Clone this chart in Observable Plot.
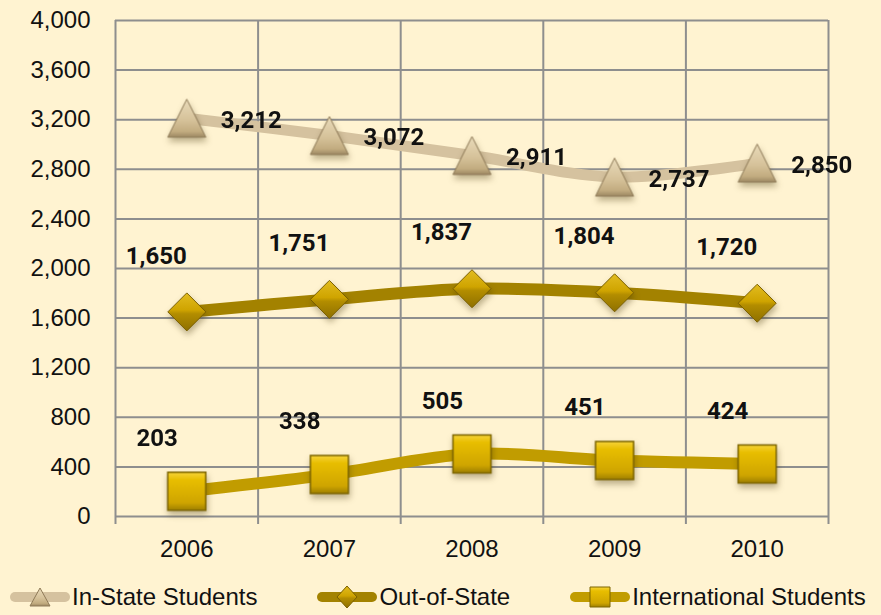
<!DOCTYPE html>
<html>
<head>
<meta charset="utf-8">
<script src="https://cdn.jsdelivr.net/npm/d3@7"></script>
<script src="https://cdn.jsdelivr.net/npm/@observablehq/plot@0.6"></script>
<style>
  html, body { margin: 0; padding: 0; background: #FFF3D1; }
  #chart { width: 881px; height: 615px; background: #FFF3D1; overflow: hidden; }
  #chart svg g[aria-label="dot"] { filter: drop-shadow(1px 4px 3px rgba(60,45,0,0.35)); }
  .legend { display: flex; gap: 60px; padding-left: 10px; height: 37px; align-items: center;
            font: 24px "Liberation Sans", Arial, sans-serif; color: #111; }
  .item { display: flex; align-items: center; gap: 2px; }
</style>
</head>
<body>
<div id="chart"></div>
<script>
// ---- data ----
const years = [2006, 2007, 2008, 2009, 2010];
const inState = [3212, 3072, 2911, 2737, 2850];
const outOfState = [1650, 1751, 1837, 1804, 1720];
const international = [203, 338, 505, 451, 424];
const seriesNames = ["In-State Students", "Out-of-State", "International Students"];
const yTicks = [0, 400, 800, 1200, 1600, 2000, 2400, 2800, 3200, 3600, 4000];

// ---- build tables ----
const rows = (vals) => years.map((year, i) => ({year, value: vals[i]}));
const inRows = rows(inState), outRows = rows(outOfState), intRows = rows(international);
const bounds = d3.range(years.length + 1).map(i => years[0] - 0.5 + i);

// ---- custom symbols ----
const triSym = {draw(ctx, size) { const r = Math.sqrt(size / Math.PI);
  ctx.moveTo(0, -r); ctx.lineTo(r, r); ctx.lineTo(-r, r); ctx.closePath(); }};
const diaSym = {draw(ctx, size) { const r = Math.sqrt(size / Math.PI);
  ctx.moveTo(0, -r); ctx.lineTo(r, 0); ctx.lineTo(0, r); ctx.lineTo(-r, 0); ctx.closePath(); }};
const sqSym = {draw(ctx, size) { const r = Math.sqrt(size / Math.PI);
  ctx.rect(-r, -r, 2 * r, 2 * r); }};

const colors = {
  inLine: "#D5C29F", outLine: "#A38200", intLine: "#C19C00",
  inStroke: "#8F7B58", outStroke: "#7A5F00", intStroke: "#7D6500"
};
const labelFont = {fontFamily: "Roboto, 'Liberation Sans', sans-serif", fontWeight: "bold", fontSize: 24, fill: "#111"};

const plot = Plot.plot({
  width: 881, height: 578,
  marginLeft: 115, marginRight: 53, marginTop: 20, marginBottom: 62,
  style: {background: "transparent", fontFamily: "'Liberation Sans', Arial, sans-serif", fontSize: "24px", color: "#111", overflow: "visible"},
  x: {domain: [bounds[0], bounds[bounds.length - 1]], ticks: years, tickFormat: d => String(d), tickSize: 0, tickPadding: 23, label: null},
  y: {domain: [0, 4000], ticks: yTicks, tickFormat: d3.format(","), tickSize: 0, tickPadding: 25, label: null},
  marks: [
    Plot.ruleY(yTicks, {stroke: "#8E8E8E", strokeWidth: 2}),
    Plot.ruleX(bounds, {stroke: "#8E8E8E", strokeWidth: 2, insetBottom: -8}),
    Plot.line(inRows, {x: "year", y: "value", stroke: colors.inLine, strokeWidth: 11, curve: "catmull-rom"}),
    Plot.line(outRows, {x: "year", y: "value", stroke: colors.outLine, strokeWidth: 12, curve: "catmull-rom"}),
    Plot.line(intRows, {x: "year", y: "value", stroke: colors.intLine, strokeWidth: 12, curve: "catmull-rom"}),
    Plot.dot(inRows, {x: "year", y: "value", symbol: triSym, r: 19, fill: "url(#gTri)", stroke: colors.inStroke, strokeWidth: 1}),
    Plot.dot(outRows, {x: "year", y: "value", symbol: diaSym, r: 19, fill: "url(#gDia)", stroke: colors.outStroke, strokeWidth: 1}),
    Plot.dot(intRows, {x: "year", y: "value", symbol: sqSym, r: 19, fill: "url(#gSq)", stroke: colors.intStroke, strokeWidth: 1.5}),
    Plot.text(inRows, {x: "year", y: "value", text: d => d3.format(",")(d.value), textAnchor: "start", dx: 34, dy: 2, ...labelFont}),
    Plot.text(outRows, {x: "year", y: "value", text: d => d3.format(",")(d.value), textAnchor: "end", dx: 0, dy: -56, ...labelFont}),
    Plot.text(intRows, {x: "year", y: "value", text: d => d3.format(",")(d.value), textAnchor: "end", dx: -9, dy: -53, ...labelFont})
  ]
});

// gradients for bevelled markers
const defs = d3.select(plot).insert("defs", ":first-child");
function grad(id, stops) {
  const g = defs.append("linearGradient").attr("id", id).attr("x1", 0).attr("y1", 0).attr("x2", 0).attr("y2", 1);
  stops.forEach(([o, c]) => g.append("stop").attr("offset", o).attr("stop-color", c));
}
grad("gTri", [[0, "#E9DBBA"], [0.55, "#D6C29A"], [0.85, "#C2AC80"], [1, "#9C8762"]]);
grad("gDia", [[0, "#E2BC20"], [0.45, "#CFA400"], [0.55, "#B38D00"], [1, "#8E7000"]]);
grad("gSq", [[0, "#F7D43A"], [0.2, "#E8BE00"], [0.8, "#CFA500"], [1, "#9E7F00"]]);

const chart = document.getElementById("chart");
chart.appendChild(plot);

// legend
const legend = document.createElement("div");
legend.className = "legend";
const swatches = [
  {line: colors.inLine, fill: "url(#gTri)", stroke: colors.inStroke, path: "M30,3 L40,21 L20,21 Z"},
  {line: colors.outLine, fill: "url(#gDia)", stroke: colors.outStroke, path: "M30,1 L40,12 L30,23 L20,12 Z"},
  {line: colors.intLine, fill: "url(#gSq)", stroke: colors.intStroke, path: "M20,2 H40 V22 H20 Z"}
];
seriesNames.forEach((name, i) => {
  const s = swatches[i];
  const item = document.createElement("div");
  item.className = "item";
  item.innerHTML = `<svg width="60" height="24" viewBox="0 0 60 24"><line x1="5" y1="12" x2="55" y2="12" stroke="${s.line}" stroke-width="10" stroke-linecap="round"/><path d="${s.path}" fill="${s.fill}" stroke="${s.stroke}" stroke-width="1"/></svg><span>${name}</span>`;
  legend.appendChild(item);
});
chart.appendChild(legend);
</script>
</body>
</html>
